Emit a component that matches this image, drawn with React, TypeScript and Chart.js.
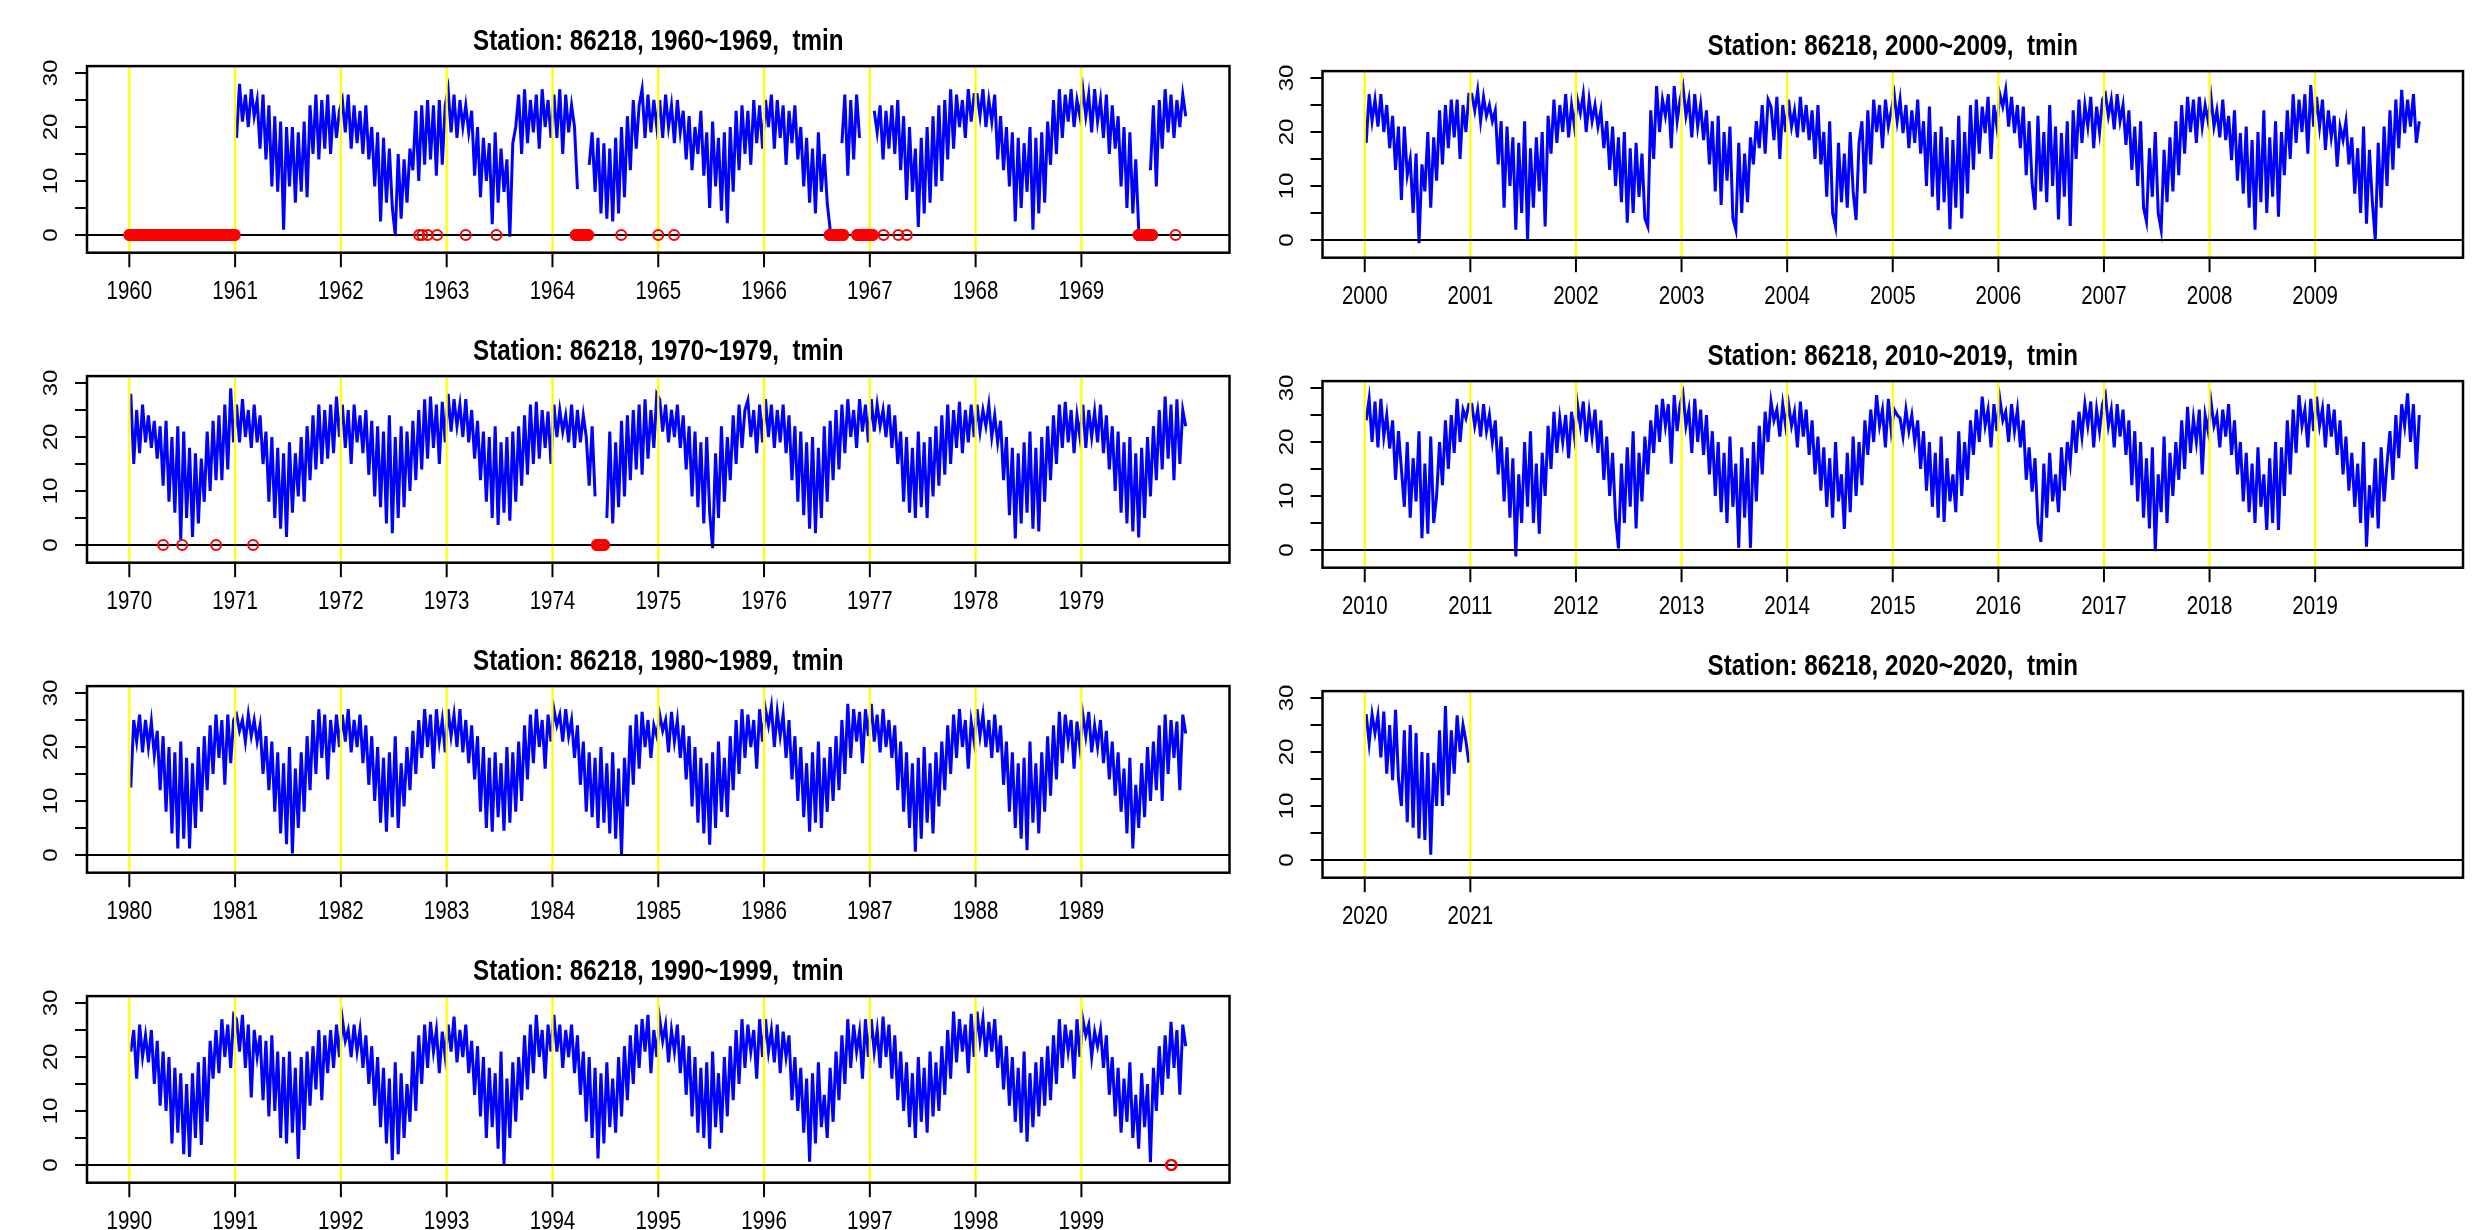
import React, { useEffect, useRef } from 'react';
import { Chart, registerables } from 'chart.js';

Chart.register(...registerables);

// ---------------- data (tmin, ~10-day readings, 36 per year) ----------------
const STATION = '86218';
const VARIABLE = 'tmin';
const PTS_PER_YEAR = 36;

const yTicks = [0, 5, 10, 15, 20, 25, 30];
const yLabels = [0, 10, 20, 30];

const ticks1960s = [1960, 1961, 1962, 1963, 1964, 1965, 1966, 1967, 1968, 1969];
const ticks1970s = [1970, 1971, 1972, 1973, 1974, 1975, 1976, 1977, 1978, 1979];
const ticks1980s = [1980, 1981, 1982, 1983, 1984, 1985, 1986, 1987, 1988, 1989];
const ticks1990s = [1990, 1991, 1992, 1993, 1994, 1995, 1996, 1997, 1998, 1999];
const ticks2000s = [2000, 2001, 2002, 2003, 2004, 2005, 2006, 2007, 2008, 2009];
const ticks2010s = [2010, 2011, 2012, 2013, 2014, 2015, 2016, 2017, 2018, 2019];
const ticks2020s = [2020, 2021];

// 1960 entirely missing; series starts 1961
const tmin1960s: (number | null)[] = [
  18,28,21,26,20,27,22,25,16,26,14,24, 9,22,8,21,1,20, 9,20,6,19,8,21, 7,24,15,26,14,25, 16,26,15,24,18,23,
  25,19,26,16,24,17,23,15,24,14,20,9, 19,2.5,18,6,16,5,0,15,3,14,6,16, 12,23,10,24,13,25, 14,24,11,25,13,24,
  27,19,26,18,25,20,24,19,23,11,20,7, 18,10,17,2,19,6, 16,8,14,-0.3,17,20, 26,15,27,17,25,19, 26,16,27,20,25,18,
  26,18,27,15,26,19,24,20,8.5, null,null,null, 13,19,8,18,4,17, 3,16,2.5,18,4,20, 7,22,12,25,16,24, 27,18,26,19,25,20,
  25,18,26,20,24,17,25,19,23,14,22,12, 20,15,23,11,19,5, 21,9,18,4.5,19,2.2, 20,8,23,12,24,15, 23,13,25,17,24,16,
  25,20,26,16,25,18,24,13,23,17,24,14, 20,9,18,6,16,4,19,8,15,6,1, null,null,null, 17,26,11,25,14,26,18, null,null,null,
  null,23,19,24,14,23,16,24,15,25,12,22, 6.5,20,8,16,1.5,18, 4,20,6,22,9,24, 10,25,14,27,16,26, 20,25,18,27,21,26,
  26,22,27,20,25,21,26,14,22,12,20,9, 19,2.5,18,5,17,8,20,1,18,4,19,6, 21,13,25,15,27,18, 26,21,27,20,25,22,
  27,22,26,19,27,21,25,18,26,15,24,16, 22,9,20,5,19,4,14,1, null,null,null, 12,24,9,25,16,27,19, 26,18,25,20,26,22,
];

const tmin1970s: (number | null)[] = [
  28,15,25,17,26,19,24,18,23,16,22,11, 23,8,20,6,22,1,21,5,18,1.5,17,4, 16,8,21,10,23,12, 24,12,26,14,29,19,
  26,19,27,20,25,18,26,19,24,15,21,8, 20,5,18,3,17,1.5,19,6,17,9,20,8, 22,12,24,14,26,15, 25,16,26,17,27.5,20,
  26,18,25,15,26,19,24,17,25,13,23,9, 22,7,21,4,24,2.2,20,5,22,7,21,10, 23,12,25,14,27,16, 27.5,18,26,15,26.5,19,
  28,21,27,22,26,20,27,19,25,16,23,12, 21,8,20,5,22,3.7,19,6,20,4.5,21,8, 22,11,24,13,26,15, 26.5,16,25,18,24.7,15,
  26,20,25,21,24,19,26,18,25,19,24,20, 11,22,9, null,null,null, 5,21,4,19,7,23, 9,24,12,25,14,26, 13,27,16,25,18,28,
  27,21,26,19,25,20,26,18,24,14,22,9, 21,7,19,4,20,6,-0.6,17,5,22,8,20, 12,24,15,26,18,25, 26.8,20,25,17,26,19,
  27,20,26,18,25,19,26,17,24,12,22,8, 21,5.5,19,3,20,2.2,18,5,22,8,23,12, 25,14,26,17,27,20, 25,18,27,21,26,19,
  27,21,26,22,25,20,26,18,24,15,21,8, 20,6,18,5,21,7,19,5,20,9,22,11, 24,13,26,15,25,18, 26.5,17,25,19,26,20,
  26,21,25,22,26,20,24,19,23,12,20,5.5, 18,1.2,17,4,19,6,21,3,18,2.5,20,8, 22,12,24,15,26,18, 26.5,19,25,17,24,20,
  26,18,25,20,24.7,19,26,17,24,14,22,10, 21,6,19,4,20,2.5,17,1.4,18,5,20,9, 22,12,25,14,27.5,16, 26,12,27,15,25,22,
];

const tmin1980s: (number | null)[] = [
  12.5,25,21,26,19,25,20,24.7,18.5,23,12,22, 8,20,4,19,1.2,21,3,18,1.2,17,5,20, 8,22,12,24,15,26, 18,25,13,26,17,25,
  26,23,25,21,26,22,25,21,24,15,22,12, 21,8,19,4,17,2,20,0.3,16,5,19,8, 22,12,25,15,27,18, 26,14,25,19,26,20,
  26,21,27,19,25,20,26,17,24,13,22,10, 20,6,18,4.3,19,7,22,5,17,9,20,12, 23,15,25,18,27,20, 26,16,27,21,25,19,
  27,22,26,20,27,19,25,17,24,14,22,8, 20,5,18,4.3,19,7,17,4.5,20,6,19,8, 21,10,24,14,26,17, 27,20,25,16,26,21,
  27,24,26,21,27,22,25,18,24,13,21,8, 19,7,18,5,20,6,17,4,19,3,16,0, 18,9,24,13,26,16, 26.5,20,25,18,24,22,
  26,23,25,19,26.5,21,25,18,24,14,22,9, 20,6,18,4,17,1.9,19,5,21,8,18,7, 22,12,25,15,27,18, 26,20,25,16,27,21,
  27,24,27.5,20,26.5,22,26,18,25,14,22,10, 20,7,17,4.3,19,6,21,5,18,8,20,10, 22,12,25,15,28,18, 27,21,26.5,17,27,22,
  28,21,26,19,27,20,25,18,24,12,21,8, 19,5,17,0.6,18,3,20,6,17,4,19,9, 21,12,24,15,26,18, 27,20,25,16,24.7,21,
  27,22,26,20,25,18,26,19,24,13,21,8, 19,5,17,3,18,0.9,21,6,17,4,19,8, 22,11,24,14,26.5,17, 26,21,25,16,24.7,20,
  26,22,26.5,19,24,20,25,17,23,14,21,11, 19,8,16,4,18,1.2,13,5,17,7,20,10, 21,12,24,10,26,15, 25,18,24.7,12,26,22.5,
];

const tmin1990s: (number | null)[] = [
  21,25,16,26,20,24,19,25,15,23,11,21, 10,20,4,18,6,17,2,15,1.5,17,5,19, 3.7,20,8,23,16,25, 17,27,20,26,18,27.8,
  27,21,27.8,18,26,12.5,25,20,24,12,23,9, 24,10,21,5,20,4,21,6,18,1.1,20,6.5, 21,11,22,14,25,12, 24,17,25,18,26,20,
  27,23,25,20,26,21,25,18,24,15,22,11, 20,7,18,4,16,0.9,19,2,17,5,15,8, 21,10,24,15,26,18, 26.5,21,25,17,24.7,20,
  26,21,27.5,19,25,20,26,17,23,13,22,9, 20,5,18,7,17,3,21,0,16,5,19,8, 20,12,24,14,26,17, 27.8,20,25,16,26,21,
  27.8,21,26,18,25,20,26,17,24,13,21,8, 20,5,18,1.2,17,4,19,7,16,6,20,9, 22,12,24,15,26,18, 27,21,27.8,17,25,20,
  27,23,26,19,25,21,26,17,24,13,22,9, 20,6,18,5,19,3,21,7,17,6,20,9, 22,12,25,15,27,18, 26,21,25,16,27,20,
  27,21,25,19,26,17,24.7,20,24,12,20,10, 18,6,16,0.6,17,4,19,7,13,5,18,8, 21,12,24,15,27,18, 26,21,24.7,16,27,20,
  27,21,25,18,27.5,20,26,16,24,12,21,10, 19,7,17,5,20,8,18,6,21,9,19,10, 22,13,25,16,28.4,19, 27,21,26,17,28,20,
  28.4,23,27,20,26.5,21,27,18,24,14,22,11, 20,8,18,6,21,4.3,17,7,19,9,20,11, 22,12,24,15,27,18, 26,21,25,16,27,20,
  27,24,26,20,24.7,22,25,18,24,13,20,9, 18,6,16,8,19,5,13,3,17,7,15,0.5, 18,10,22,13,24,16, 26.5,18,25,13,26,22,
];

const tmin2000s: (number | null)[] = [
  18,27,22,26,21,27,20,25,17,23,13,21, 7.4,21,12,15,5,16,-0.6,14,9,20,6,19, 11,24,14,25,17,26, 19,26,15,25,20,27,
  27,24,27.7,22,26.5,23,25,22,24,14,22,6, 21,10,19,1.9,18,5,22,0,17,6,19,9, 20,2.5,23,16,26,18, 25,20,27,19,25,21,
  26,23.5,27,20,26,22,25,21,24,17,22,13, 21,10,19,7,20,3.2,17,5,18,8,16,4, 2.5,24,15,28.5,20,26, 23,27,17,28.5,22,26,
  28.4,23,26,19,27,21,25,18.5,24,14,22,9, 23,6.5,20,11,21,4,1.9,18,5,16,7,19, 14,22,17,25,16,26, 24.7,18.5,26.5,15,25,20,
  26,21,24,19,26.5,20,25,18.5,24,15,25,14, 20,8,22,5,2.5,18,7,16,6,20,9,3.7, 18,22,8.6,24,14,26, 20,25,17,26,21,24,
  27,22,26,19.8,25,17,24,18,26,16,22,10, 24.7,8,20,5.5,21,7,19,2,18.5,6,23,4, 20,8.6,25,13,26,16, 24.7,19.8,26.5,15,25,21,
  27,24.7,27.8,21,26.5,19.8,25,17,24.7,12,22,10.5, 5.6,23,9,20,7,25,10,21,3.8,19.8,8,22, 2.6,24,15,26,18,25, 21,26.5,17,24.7,20,26,
  27,23,26,20.5,27,22,25,17.6,24,13,21,10, 22,6,3.4,17,8,20,5,1.9,16.7,7,19,9, 22,12,25,16,26.5,20, 26,18,26.5,21,25,22,
  26.5,21,24,19,26,18.5,23,14.8,24,11,19.8,8.6, 21,6,18.5,1.9,20,7,24,5,19,8,22,4.3, 20,12,24,15,27,18, 26,20,27,16,28.7,21,
  26.5,21,26,16.7,24,19,23,13.6,21,18.5,22,14, 19,8.6,17,5,21,3,16.7,7,0,18,6,21, 10,24,13,26,17,27.8, 19.8,26,21,27,18,22,
];

const tmin2010s: (number | null)[] = [
  24,28,20,27.5,19,28,21,25,18.8,24,13,22, 15,8,20,6,17,9,22,2.2,16,3,21,5, 10,20,12,24,15,25, 18,28,20,26,24.4,27,
  27,23,26,21,27,22,25,20,24,14,21,9, 19,6,17,-1.2,14,5,20,8,22,5,16,3, 18,10,23,15,25.6,18, 24.4,20,25,17,25.6,21,
  27,23,27.5,20,25.6,21,26,18,24,13,21,10, 18,6,0.3,16,5,19,8,22,4,18,9,21, 14,24,18,26.9,20,28, 23,27,16,28.7,22,27,
  29,23,26,18,28,20,26,17.6,25,14,22,10, 20,7,18,5,21,8,16,0.4,19,6,17,0.4, 20,9,23,14,25.6,20, 27.5,24,26,21,27,23,
  27,23,25.6,19,27.5,21,26,17.6,24,14,21,11, 19,8,17,6,20,9,14,3.9,18,7,21,10, 20,12,24,17.6,26,20, 28.7,23,26,19,28,22,
  26,25,24.4,21,26,22,25,20,24,15,22,11, 20,8,18,6,21,5.2,17,9,14,7,22,10, 20,13,24,17.6,26,20, 28.4,23,26,19,27,22,
  28,24,25.6,20,27,22,26,19,24,13,19,10.8, 17,5,1.5,16,6,18,9,14,7,19,11,20, 16,24,18,25.6,21,27, 23,27.5,19,26,22,27,
  28.7,23,26,19,27,21,26,17.6,24,12,22,9, 20,6,17,4,19,-0.2,14,7,21,5,18,10, 20,13,24,15,26.5,18, 24.4,20,26,14,25,22,
  27.5,23,25,19,26,21,27,17.6,24,14,20,9, 18,7,16,5,19,8,14,3.7,17,5,20,3.7, 19,10,24,14,26,18, 28.7,23,26,19,28,22,
  28.4,23,26.2,19,27,21,26,17.6,24,14,21,11, 18,8,16,5,20,0.6,12,6,17,4,19,9, 16,22,13,25,17,27, 23,29,20,27,15,25,
];

const tmin2020s: (number | null)[] = [
  27,21.6,27,23.5,26.8,19,27.5,16,25,14.8,27.8,15, 10,24,7,25,6,23.5,4,20,3.7,19.8,1,18, 10,24,10,28.5,12,24, 16,26.8,20,25,22,18,
];

// missing days (plotted as red circles on the zero line)
const missRanges1960s = [[1960.0, 1960.998], [1964.22, 1964.34], [1966.62, 1966.75], [1966.88, 1967.03], [1969.54, 1969.67]];
const missDays1960s = [1962.74, 1962.77, 1962.82, 1962.91, 1963.18, 1963.47, 1964.65, 1965.0, 1965.15, 1967.13, 1967.27, 1967.35, 1969.89];
const missRanges1970s = [[1974.42, 1974.49]];
const missDays1970s = [1970.32, 1970.5, 1970.82, 1971.17];
const missDays1990s = [1999.846, 1999.85, 1999.854];

// ---------------- layout ----------------
const CW = 1243;
const CH = 300;
const BOX_T = 66.1;
const BOX_B = 252.7;
const BOX_L = [87, 79.5];
const BOX_R = [1229.5, 1220];
const COL_X = [0, 1243];
const ROW_Y = [[0, 310, 620, 930], [5, 315, 625]];
const Y_MIN = -3.28;
const Y_MAX = 31.28;
const XSQ = 0.82; // horizontal squeeze of the reference text
const FONT = '"Liberation Sans", Arial, Helvetica, sans-serif';
const XLAB_BASE = 298.5;
const TITLE_BASE = 50;

type Panel = {
  from: number; to: number; col: number; row: number; dataStart: number;
  values: (number | null)[]; ticks: number[]; missRanges: number[][]; missDays: number[];
};

const panels: Panel[] = [
  { from: 1960, to: 1969, col: 0, row: 0, dataStart: 1961, values: tmin1960s, ticks: ticks1960s, missRanges: missRanges1960s, missDays: missDays1960s },
  { from: 1970, to: 1979, col: 0, row: 1, dataStart: 1970, values: tmin1970s, ticks: ticks1970s, missRanges: missRanges1970s, missDays: missDays1970s },
  { from: 1980, to: 1989, col: 0, row: 2, dataStart: 1980, values: tmin1980s, ticks: ticks1980s, missRanges: [], missDays: [] },
  { from: 1990, to: 1999, col: 0, row: 3, dataStart: 1990, values: tmin1990s, ticks: ticks1990s, missRanges: [], missDays: missDays1990s },
  { from: 2000, to: 2009, col: 1, row: 0, dataStart: 2000, values: tmin2000s, ticks: ticks2000s, missRanges: [], missDays: [] },
  { from: 2010, to: 2019, col: 1, row: 1, dataStart: 2010, values: tmin2010s, ticks: ticks2010s, missRanges: [], missDays: [] },
  { from: 2020, to: 2020, col: 1, row: 2, dataStart: 2020, values: tmin2020s, ticks: ticks2020s, missRanges: [], missDays: [] },
];

function linePoints(start: number, values: (number | null)[]) {
  return values.map((v, i) => ({
    x: start + Math.floor(i / PTS_PER_YEAR) + ((i % PTS_PER_YEAR) + 0.5) / PTS_PER_YEAR,
    y: v,
  }));
}

function missingPoints(ranges: number[][], days: number[]) {
  const pts: { x: number; y: number }[] = [];
  for (const [a, b] of ranges) {
    for (let t = a; t <= b + 1e-9; t += 1 / 365) pts.push({ x: t, y: 0 });
  }
  for (const d of days) pts.push({ x: d, y: 0 });
  return pts;
}

function squeezedText(ctx: CanvasRenderingContext2D, text: string, x: number, y: number, font: string) {
  ctx.save();
  ctx.translate(x, y);
  ctx.scale(XSQ, 1);
  ctx.font = font;
  ctx.textAlign = 'center';
  ctx.textBaseline = 'alphabetic';
  ctx.fillStyle = '#000';
  ctx.fillText(text, 0, 0);
  ctx.restore();
}

function rPlugin(p: Panel) {
  return {
    id: 'rStyle',
    afterDatasetDraw(chart: any, args: any) {
      if (args.index !== 0) return;
      const { ctx, chartArea: a, scales } = chart;
      const xs = scales.x, ys = scales.y;
      ctx.save();
      ctx.beginPath();
      ctx.rect(a.left, a.top, a.right - a.left, a.bottom - a.top);
      ctx.clip();
      ctx.strokeStyle = '#ffff00';
      ctx.lineWidth = 2.2;
      for (const yr of p.ticks) {
        const px = xs.getPixelForValue(yr);
        ctx.beginPath();
        ctx.moveTo(px, a.top);
        ctx.lineTo(px, a.bottom);
        ctx.stroke();
      }
      ctx.strokeStyle = '#000';
      ctx.lineWidth = 2;
      const y0 = ys.getPixelForValue(0);
      ctx.beginPath();
      ctx.moveTo(a.left, y0);
      ctx.lineTo(a.right, y0);
      ctx.stroke();
      ctx.restore();
    },
    afterDraw(chart: any) {
      const { ctx, chartArea: a, scales } = chart;
      const xs = scales.x, ys = scales.y;
      ctx.save();
      ctx.strokeStyle = '#000';
      ctx.lineWidth = 2.5;
      ctx.strokeRect(a.left, a.top, a.right - a.left, a.bottom - a.top);
      ctx.lineWidth = 2;
      for (const yr of p.ticks) {
        const px = xs.getPixelForValue(yr);
        ctx.beginPath();
        ctx.moveTo(px, a.bottom);
        ctx.lineTo(px, a.bottom + 14.5);
        ctx.stroke();
        squeezedText(ctx, String(yr), px, XLAB_BASE, `25px ${FONT}`);
      }
      for (const v of yTicks) {
        const py = ys.getPixelForValue(v);
        ctx.beginPath();
        ctx.moveTo(a.left - 12, py);
        ctx.lineTo(a.left, py);
        ctx.stroke();
      }
      for (const v of yLabels) {
        const py = ys.getPixelForValue(v);
        ctx.save();
        ctx.translate(a.left - 30, py);
        ctx.scale(XSQ, 1);
        ctx.rotate(-Math.PI / 2);
        ctx.font = `24px ${FONT}`;
        ctx.textAlign = 'center';
        ctx.textBaseline = 'alphabetic';
        ctx.fillStyle = '#000';
        ctx.fillText(String(v), 0, 0);
        ctx.restore();
      }
      const title = `Station: ${STATION}, ${p.from}~${p.to},  ${VARIABLE}`;
      squeezedText(ctx, title, (a.left + a.right) / 2, TITLE_BASE, `bold 29.5px ${FONT}`);
      ctx.restore();
    },
  };
}

function PanelChart({ p }: { p: Panel }) {
  const ref = useRef<HTMLCanvasElement | null>(null);
  useEffect(() => {
    if (!ref.current) return;
    const boxL = BOX_L[p.col];
    const boxR = BOX_R[p.col];
    const chart = new Chart(ref.current, {
      type: 'line',
      data: {
        datasets: [
          {
            data: linePoints(p.dataStart, p.values) as any,
            borderColor: '#0000ff',
            borderWidth: 3,
            pointRadius: 0,
            tension: 0,
            spanGaps: false,
            order: 2,
          },
          {
            data: missingPoints(p.missRanges, p.missDays) as any,
            showLine: false,
            pointStyle: 'circle',
            pointRadius: 5,
            pointBorderWidth: 2,
            pointBorderColor: '#ff0000',
            pointBackgroundColor: 'rgba(0,0,0,0)',
            order: 1,
          },
        ],
      },
      options: {
        animation: false,
        responsive: false,
        maintainAspectRatio: false,
        devicePixelRatio: 1,
        events: [],
        layout: { padding: { left: boxL, right: CW - boxR, top: BOX_T, bottom: CH - BOX_B } },
        scales: {
          x: { type: 'linear', min: p.from - 0.4, max: p.from + 10.4, display: false },
          y: { type: 'linear', min: Y_MIN, max: Y_MAX, display: false },
        },
        plugins: { legend: { display: false }, tooltip: { enabled: false }, title: { display: false } },
      },
      plugins: [rPlugin(p)],
    });
    return () => chart.destroy();
  }, [p]);
  return (
    <canvas
      ref={ref}
      width={CW}
      height={CH}
      style={{ position: 'absolute', left: COL_X[p.col], top: ROW_Y[p.col][p.row], width: CW, height: CH }}
    />
  );
}

export default function App() {
  return (
    <div style={{ position: 'absolute', left: 0, top: 0, width: 2486, height: 1230, overflow: 'hidden', background: '#fff' }}>
      {panels.map((p) => (
        <PanelChart key={p.from} p={p} />
      ))}
    </div>
  );
}
